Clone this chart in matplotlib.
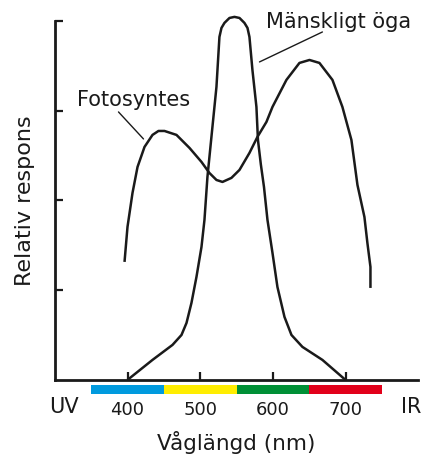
import matplotlib
matplotlib.use('Agg')
import matplotlib.pyplot as plt
import matplotlib.transforms as mtransforms

# human eye sensitivity (nm, relative)
eye_nm = [400, 434.4, 461.9, 474.3, 481.2, 488.0, 494.9, 501.8, 505.9, 510.0,
          515.5, 522.4, 526.5, 529.3, 533.4, 540.3, 547.2, 554.1, 560.9, 565.1,
          567.8, 571.9, 577.4, 579.5, 583.5, 587.8, 592.6, 599.5, 606.3, 616.0,
          625.6, 640.7, 668.2, 700]
eye_val = [0.0, 0.223, 0.390, 0.501, 0.635, 0.858, 1.148, 1.482, 1.783, 2.262,
           2.708, 3.265, 3.822, 3.922, 3.978, 4.033, 4.045, 4.033, 3.978, 3.922,
           3.822, 3.454, 3.042, 2.674, 2.400, 2.150, 1.783, 1.415, 1.036, 0.702,
           0.501, 0.368, 0.223, 0.0]

# photosynthesis response
foto_nm = [395.9, 400, 406.9, 413.8, 423.4, 434.4, 442.6, 450.9, 467.4, 485.3,
           501.8, 512.7, 522.4, 530.7, 543.0, 554.1, 567.8, 578.8, 591.2, 599.5,
           618.7, 636.6, 650.4, 664.1, 682.0, 695.7, 708.1, 716.4, 726.0, 730.1,
           734.3, 734.3]
foto_val = [1.315, 1.705, 2.084, 2.373, 2.596, 2.730, 2.774, 2.774, 2.730, 2.585,
            2.429, 2.306, 2.228, 2.206, 2.251, 2.340, 2.529, 2.708, 2.875, 3.042,
            3.343, 3.532, 3.565, 3.532, 3.343, 3.042, 2.674, 2.173, 1.816, 1.526,
            1.259, 1.025]

band_start = [350, 450, 550, 650]
band_colors = ['#009ade', '#ffed00', '#009036', '#e2001a']

xticks = [400, 500, 600, 700]
yticks = [1, 2, 3, 4]

ink = '#1a1a1a'
plt.rcParams['font.family'] = 'DejaVu Sans'
plt.rcParams['font.size'] = 13

fig = plt.figure(figsize=(4.25, 4.55), dpi=100)
ax = fig.add_axes([0.129, 0.165, 0.855, 0.789])

for xs, ys in [(eye_nm, eye_val), (foto_nm, foto_val)]:
    ax.plot(xs, ys, color=ink, lw=1.8, clip_on=False,
            solid_capstyle='butt', solid_joinstyle='round')

ax.bar(band_start, [-0.1] * 4, bottom=-0.056, width=100, align='edge',
       color=band_colors, linewidth=0, clip_on=False)

ax.set_xlim(300, 800)
ax.set_ylim(0, 4)
for s in ['top', 'right']:
    ax.spines[s].set_visible(False)
for s in ['left', 'bottom']:
    ax.spines[s].set_linewidth(2.0)
    ax.spines[s].set_color(ink)

ax.set_xticks(xticks)
ax.set_yticks(yticks)
ax.set_yticklabels([])
ax.tick_params(axis='both', direction='in', length=6, width=1.6, color=ink,
               labelcolor=ink)
ax.tick_params(axis='x', pad=15)

trans = mtransforms.blended_transform_factory(ax.transData, ax.transAxes)
ax.text(312.7, -0.075, 'UV', transform=trans, ha='center', va='center',
        color=ink, fontsize=15)
ax.text(791, -0.075, 'IR', transform=trans, ha='center', va='center',
        color=ink, fontsize=15)

ax.set_xlabel('Våglängd (nm)', color=ink, labelpad=8.5, fontsize=15.5)
ax.set_ylabel('Relativ respons', color=ink, labelpad=10.5, fontsize=16)

# labels with leader lines
ax.text(690.9, 3.99, 'Mänskligt öga', ha='center', va='center', color=ink,
        fontsize=15, clip_on=False)
ax.annotate('', xy=(581.6, 3.543), xytext=(668.2, 3.877), annotation_clip=False,
            arrowprops=dict(arrowstyle='-', color=ink, lw=1.0,
                            shrinkA=0, shrinkB=0))
ax.text(408.3, 3.12, 'Fotosyntes', ha='center', va='center', color=ink,
        fontsize=15)
ax.annotate('', xy=(422.0, 2.685), xytext=(387.6, 2.986), annotation_clip=False,
            arrowprops=dict(arrowstyle='-', color=ink, lw=1.0,
                            shrinkA=0, shrinkB=0))

fig.savefig('out.png', dpi=100)
